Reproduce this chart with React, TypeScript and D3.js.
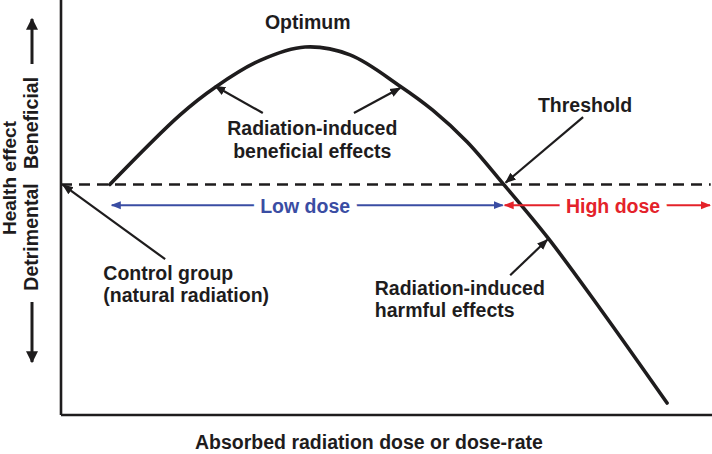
import React from 'react';
import * as d3 from 'd3';

// dose-response curve (hormesis)
const doseValues = [0.75, 1.83, 2.37, 3.06, 3.75, 4.44, 5.21, 5.71, 6.24, 6.8, 7.48, 8.28, 9.31];
const effectValues = [0, 1.51, 2.11, 2.69, 2.98, 2.81, 2.13, 1.61, 0.92, 0, -1.16, -2.69, -4.74];

const lowDoseRange = [0.75, 6.8];
const highDoseRange = [6.8, 10];
const thresholdDose = 6.8;

const W = 712;
const H = 454;
const ink = '#1e1c1d';
const blue = '#3a4da3';
const red = '#e4222a';
const font = 'Liberation Sans, Arial, Helvetica, sans-serif';

const App = () => {
  const x = d3.scaleLinear().domain([0, 10]).range([61, 712]);
  const y = d3.scaleLinear().domain([-5, 4]).range([415, 0]);

  const pts: [number, number][] = doseValues.map((d, i) => [d, effectValues[i]]);
  const line = d3
    .line<[number, number]>()
    .x((d) => x(d[0]))
    .y((d) => y(d[1]))
    .curve(d3.curveCatmullRom.alpha(0.5));

  const arrowY = y(-0.45);
  const txt = {
    fontFamily: font,
    fontWeight: 700,
    fontSize: 19.5,
    fill: ink,
  } as const;

  const arrow = (x1: number, y1: number, x2: number, y2: number, m = 'ah') => (
    <line x1={x1} y1={y1} x2={x2} y2={y2} stroke={ink} strokeWidth={2.2} markerEnd={`url(#${m})`} />
  );

  return (
    <svg width={W} height={H} style={{ position: 'absolute', left: 0, top: 0, background: '#fff' }}>
      <defs>
        <marker id="ah" viewBox="0 0 10 10" refX="9" refY="5" markerWidth="5" markerHeight="5" orient="auto" markerUnits="strokeWidth">
          <path d="M0,1 L10,5 L0,9 Z" fill={ink} />
        </marker>
        <marker id="ahb" viewBox="0 0 10 10" refX="9" refY="5" markerWidth="5" markerHeight="5" orient="auto-start-reverse" markerUnits="strokeWidth">
          <path d="M0,1 L10,5 L0,9 Z" fill={blue} />
        </marker>
        <marker id="ahr" viewBox="0 0 10 10" refX="9" refY="5" markerWidth="5" markerHeight="5" orient="auto-start-reverse" markerUnits="strokeWidth">
          <path d="M0,1 L10,5 L0,9 Z" fill={red} />
        </marker>
        <marker id="ahk" viewBox="0 0 10 10" refX="9" refY="5" markerWidth="4" markerHeight="4" orient="auto" markerUnits="strokeWidth">
          <path d="M0,0 L10,5 L0,10 Z" fill={ink} />
        </marker>
      </defs>

      {/* axes */}
      <line x1={x(0)} y1={0} x2={x(0)} y2={y(-5)} stroke={ink} strokeWidth={2.6} />
      <line x1={x(0)} y1={y(-5)} x2={x(10)} y2={y(-5)} stroke={ink} strokeWidth={2.6} />

      {/* control level */}
      <line x1={x(0)} y1={y(0)} x2={x(9.98)} y2={y(0)} stroke={ink} strokeWidth={2.4} strokeDasharray="11 7" />

      {/* response curve */}
      <path d={line(pts) ?? ''} fill="none" stroke={ink} strokeWidth={3.6} strokeLinecap="round" />

      {/* low / high dose ranges */}
      <line x1={x(lowDoseRange[0]) + 2} y1={arrowY} x2={x(lowDoseRange[1]) - 1} y2={arrowY} stroke={blue} strokeWidth={2}
        markerStart="url(#ahb)" markerEnd="url(#ahb)" />
      <line x1={x(highDoseRange[0]) + 1} y1={arrowY} x2={x(highDoseRange[1]) - 2} y2={arrowY} stroke={red} strokeWidth={2}
        markerStart="url(#ahr)" markerEnd="url(#ahr)" />
      <text x={x(3.75)} y={y(-0.62)} textAnchor="middle" {...txt} fill={blue}
        stroke="#fff" strokeWidth={15} paintOrder="stroke" strokeLinejoin="round">Low dose</text>
      <text x={x(8.48)} y={y(-0.62)} textAnchor="middle" {...txt} fill={red}
        stroke="#fff" strokeWidth={15} paintOrder="stroke" strokeLinejoin="round">High dose</text>

      {/* annotations */}
      <text x={x(3.79)} y={y(3.37)} textAnchor="middle" {...txt}>Optimum</text>

      <text x={x(3.86)} y={y(1.07)} textAnchor="middle" {...txt}>Radiation-induced</text>
      <text x={x(3.86)} y={y(0.57)} textAnchor="middle" {...txt}>beneficial effects</text>
      {arrow(x(3.1), y(1.55), x(2.37), y(2.13))}
      {arrow(x(4.5), y(1.55), x(5.21), y(2.09))}

      <text x={x(8.05)} y={y(1.57)} textAnchor="middle" {...txt}>Threshold</text>
      {arrow(x(8.02), y(1.46), x(thresholdDose) + 2, y(0.04))}

      <text x={x(0.65)} y={y(-2.08)} {...txt}>Control group</text>
      <text x={x(0.65)} y={y(-2.56)} {...txt}>(natural radiation)</text>
      {arrow(x(1.6), y(-1.62), x(0.03), y(-0.01))}

      <text x={x(4.82)} y={y(-2.4)} {...txt}>Radiation-induced</text>
      <text x={x(4.82)} y={y(-2.88)} {...txt}>harmful effects</text>
      {arrow(x(6.9), y(-1.97), x(7.47), y(-1.2))}

      {/* y axis labels */}
      <text transform="translate(16,178) rotate(-90)" textAnchor="middle" {...txt} fontSize={19}>Health effect</text>
      <text transform="translate(38,123) rotate(-90)" textAnchor="middle" {...txt}>Beneficial</text>
      <text transform="translate(38,237) rotate(-90)" textAnchor="middle" {...txt}>Detrimental</text>
      <line x1={32} y1={64} x2={32} y2={19} stroke={ink} strokeWidth={3} markerEnd="url(#ahk)" />
      <line x1={32} y1={302} x2={32} y2={362} stroke={ink} strokeWidth={3} markerEnd="url(#ahk)" />

      {/* x axis label */}
      <text x={195} y={449} {...txt}>Absorbed radiation dose or dose-rate</text>
    </svg>
  );
};

export default App;
